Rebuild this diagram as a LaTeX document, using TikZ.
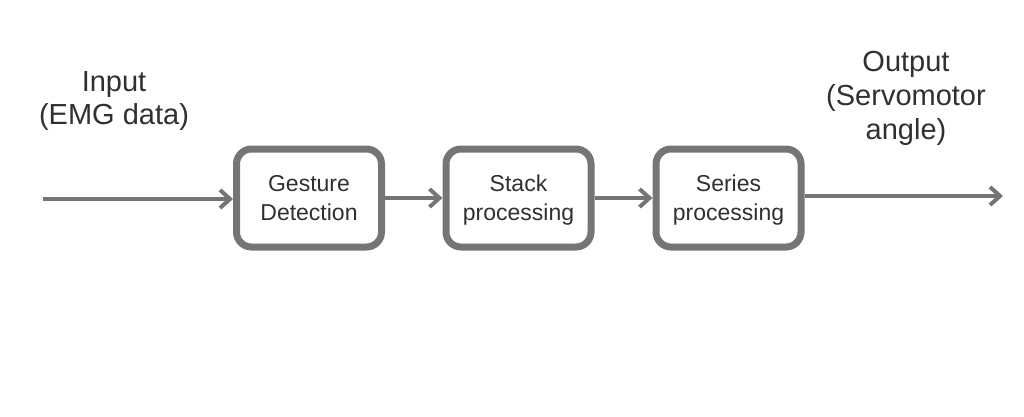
\documentclass[tikz,border=0pt]{standalone}
\usepackage{fontspec}
\setmainfont{Liberation Sans}
\usetikzlibrary{arrows.meta}
\definecolor{linegray}{HTML}{757575}
\definecolor{textgray}{HTML}{303030}
\newcommand{\boxstrut}{\rule[-6.7pt]{0pt}{29pt}}
\begin{document}
\begin{tikzpicture}[x=1pt,y=-1pt,
  procbox/.style={draw=linegray, line width=7pt, rounded corners=15pt, fill=white,
    minimum width=145pt, minimum height=98pt, inner sep=0pt, align=center,
    text=textgray, font=\fontsize{23}{29}\selectfont},
  flow/.style={draw=linegray, line width=4pt, -{Straight Barb[length=10pt,width=18pt]}},
  lbl/.style={align=center, text=textgray, inner sep=0pt}]
\useasboundingbox (0,0) rectangle (1024,416);
\node[procbox] (b1) at (309,198) {\boxstrut Gesture\\\boxstrut Detection};
\node[procbox] (b2) at (518.5,198) {\boxstrut Stack\\\boxstrut processing};
\node[procbox] (b3) at (728.5,198) {\boxstrut Series\\\boxstrut processing};
\coordinate (inStart) at (43,199);
\coordinate (outEnd) at (1003,196);
\draw[flow] (inStart) -- (inStart -| b1.west);
\draw[flow] (b1.east) -- (b2.west);
\draw[flow] (b2.east) -- (b3.west);
\draw[flow] (b3.east |- outEnd) -- (outEnd);
\node[lbl, font=\fontsize{29}{33}\selectfont] (inLabel) at (114,101) {Input\\(EMG data)};
\node[lbl, font=\fontsize{29}{34}\selectfont] (outLabel) at (906,98) {Output\\(Servomotor\\angle)};
\end{tikzpicture}
\end{document}
